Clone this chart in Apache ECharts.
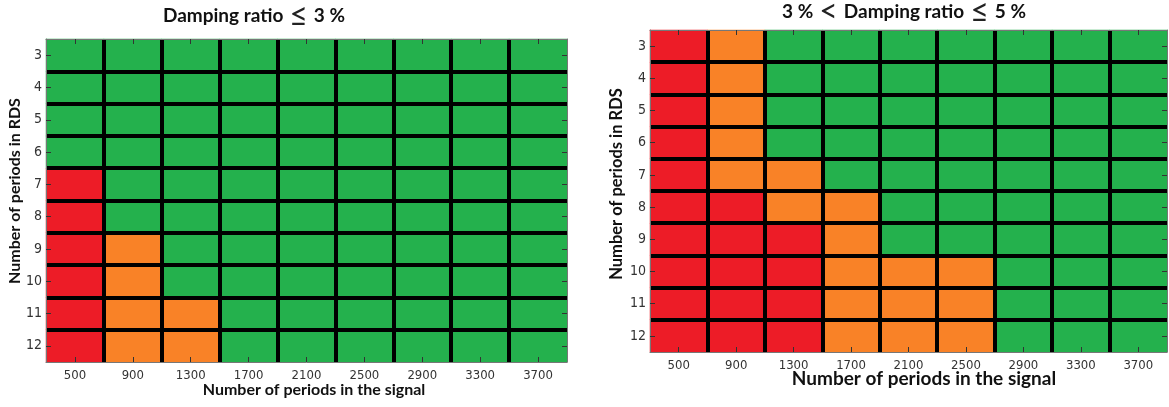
<!DOCTYPE html>
<html>
<head>
<meta charset="utf-8">
<script src="https://cdn.jsdelivr.net/npm/echarts@6/dist/echarts.min.js"></script>
<style>
html,body{margin:0;padding:0;background:#fff;}
#chart{width:1169px;height:407px;}
</style>
</head>
<body>
<div id="chart"></div>
<script>
// categories
var xCategories = ['500','900','1300','1700','2100','2500','2900','3300','3700'];
var yCategories = ['3','4','5','6','7','8','9','10','11','12'];
// status codes: 0 = green, 1 = orange, 2 = red
var leftRows = [
  [0,0,0,0,0,0,0,0,0],
  [0,0,0,0,0,0,0,0,0],
  [0,0,0,0,0,0,0,0,0],
  [0,0,0,0,0,0,0,0,0],
  [2,0,0,0,0,0,0,0,0],
  [2,0,0,0,0,0,0,0,0],
  [2,1,0,0,0,0,0,0,0],
  [2,1,0,0,0,0,0,0,0],
  [2,1,1,0,0,0,0,0,0],
  [2,1,1,0,0,0,0,0,0]
];
var rightRows = [
  [2,1,0,0,0,0,0,0,0],
  [2,1,0,0,0,0,0,0,0],
  [2,1,0,0,0,0,0,0,0],
  [2,1,0,0,0,0,0,0,0],
  [2,1,1,0,0,0,0,0,0],
  [2,2,1,1,0,0,0,0,0],
  [2,2,2,1,0,0,0,0,0],
  [2,2,2,1,1,1,0,0,0],
  [2,2,2,1,1,1,0,0,0],
  [2,2,2,1,1,1,0,0,0]
];
var leftTitle = '{t|Damping ratio}{s|\u2264}{t|3 %}';
var rightTitle = '{t|3 %}{s|<}{t|Damping ratio}{s|\u2264}{t|5 %}';
var xName = 'Number of periods in the signal';
var yName = 'Number of periods in RDS';

function toCells(rows){
  var out = [];
  rows.forEach(function(r, yi){ r.forEach(function(v, xi){ out.push([xi, yi, v]); }); });
  return out;
}

var tickFont = "'Liberation Sans Narrow','DejaVu Sans Condensed',sans-serif";
var nameFont = "Lato, 'Open Sans', sans-serif";

function axesFor(gridIndex){
  var common = {
    type:'category', gridIndex:gridIndex, z:5,
    axisLine:{show:true, lineStyle:{color:'#777', width:1}},
    axisTick:{show:true, inside:true, alignWithLabel:true, length:5, lineStyle:{color:'#333'}, interval:0}
  };
  var xs = [
    Object.assign({}, common, {position:'bottom', data:xCategories,
      axisLabel:{interval:0, margin:7, color:'#333', fontSize:13, fontFamily:tickFont},
      splitLine:{show:true, interval:0, showMinLine:false, showMaxLine:false, lineStyle:{color:'#000', width:4}}}),
    Object.assign({}, common, {position:'top', data:xCategories, axisLabel:{show:false}, splitLine:{show:false}})
  ];
  var ys = [
    Object.assign({}, common, {position:'left', data:yCategories, inverse:true,
      axisLabel:{interval:0, margin:4, color:'#333', fontSize:14, fontFamily:tickFont},
      splitLine:{show:true, interval:0, showMinLine:false, showMaxLine:false, lineStyle:{color:'#000', width:4}}}),
    Object.assign({}, common, {position:'right', data:yCategories, inverse:true, axisLabel:{show:false}, splitLine:{show:false}})
  ];
  return {xs:xs, ys:ys};
}

var a0 = axesFor(0), a1 = axesFor(1);

var richTitle = {
  t:{fontFamily:nameFont, fontWeight:'bold', fontSize:19, color:'#111', lineHeight:28},
  s:{fontFamily:nameFont, fontWeight:'normal', fontSize:32, color:'#222', lineHeight:28, padding:[0,6,0,6]}
};

var option = {
  backgroundColor:'#fff',
  animation:false,
  title:[
    {text:leftTitle, left:254, top:2, padding:0, textAlign:'center',
     textStyle:{rich:richTitle}},
    {text:rightTitle, left:904, top:-2, padding:0, textAlign:'center',
     textStyle:{rich:richTitle}}
  ],
  grid:[
    {left:46, top:39, width:521, height:323},
    {left:650, top:30, width:517, height:322}
  ],
  xAxis:a0.xs.concat(a1.xs),
  yAxis:a0.ys.concat(a1.ys),
  visualMap:{
    type:'piecewise', show:false, dimension:2,
    pieces:[{value:0, color:'#24B14D'},{value:1, color:'#F98227'},{value:2, color:'#ED1C27'}]
  },
  series:[
    {type:'heatmap', xAxisIndex:0, yAxisIndex:0, data:toCells(leftRows), itemStyle:{borderWidth:0}},
    {type:'heatmap', xAxisIndex:2, yAxisIndex:2, data:toCells(rightRows), itemStyle:{borderWidth:0}}
  ],
  graphic:[
    {type:'text', x:314, y:390, style:{text:xName, font:'bold 16px '+nameFont, fill:'#111', align:'center', verticalAlign:'middle'}},
    {type:'text', x:924, y:379, style:{text:xName, font:'bold 19px '+nameFont, fill:'#111', align:'center', verticalAlign:'middle'}},
    {type:'text', x:15, y:191, rotation:Math.PI/2, style:{text:yName, font:'bold 16px '+nameFont, fill:'#111', align:'center', verticalAlign:'middle'}},
    {type:'text', x:617, y:184, rotation:Math.PI/2, style:{text:yName, font:'bold 16.5px '+nameFont, fill:'#111', align:'center', verticalAlign:'middle'}}
  ]
};
var chart = echarts.init(document.getElementById('chart'), null, {renderer:'canvas'});
chart.setOption(option);
</script>
</body>
</html>
